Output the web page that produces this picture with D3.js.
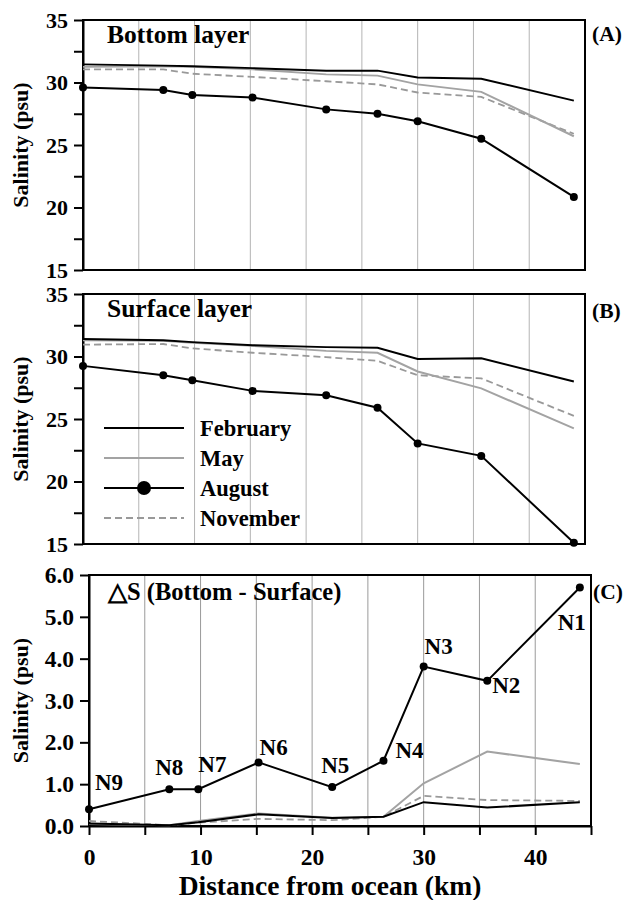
<!DOCTYPE html>
<html>
<head>
<meta charset="utf-8">
<script src="https://cdn.jsdelivr.net/npm/d3@7"></script>
<style>
  body { margin: 0; background: #fff; }
</style>
</head>
<body>
<script>
// --- data -------------------------------------------------------------------
const stations = ["N9", "N8", "N7", "N6", "N5", "N4", "N3", "N2", "N1"];
const distance = [0, 7.2, 9.8, 15.2, 21.8, 26.4, 30.0, 35.7, 44.0];
const months = ["February", "May", "August", "November"];

// bottom layer salinity (psu)
const bottomFeb = [31.45, 31.35, 31.3, 31.15, 30.95, 30.95, 30.4, 30.3, 28.55];
const bottomMay = [31.25, 31.3, 31.25, 31.05, 30.65, 30.55, 29.85, 29.25, 25.7];
const bottomAug = [29.6, 29.4, 29.0, 28.8, 27.85, 27.5, 26.9, 25.5, 20.85];
const bottomNov = [31.05, 31.05, 30.7, 30.45, 30.1, 29.85, 29.2, 28.85, 25.9];

// surface layer salinity (psu)
const surfaceFeb = [31.4, 31.3, 31.15, 30.9, 30.75, 30.7, 29.8, 29.85, 28.0];
const surfaceMay = [31.3, 31.25, 31.1, 30.85, 30.45, 30.3, 28.8, 27.45, 24.25];
const surfaceAug = [29.25, 28.5, 28.1, 27.25, 26.9, 25.9, 23.05, 22.05, 15.1];
const surfaceNov = [30.95, 31.0, 30.65, 30.3, 29.95, 29.65, 28.5, 28.25, 25.25];

// bottom - surface difference (psu)
const deltaFeb = [0.06, 0.02, 0.09, 0.28, 0.19, 0.22, 0.57, 0.44, 0.57];
const deltaMay = [0.05, 0.02, 0.12, 0.30, 0.20, 0.22, 1.02, 1.78, 1.48];
const deltaAug = [0.40, 0.88, 0.88, 1.52, 0.93, 1.56, 3.81, 3.47, 5.70];
const deltaNov = [0.12, 0.02, 0.08, 0.17, 0.14, 0.22, 0.72, 0.62, 0.60];

const salinityTicks = [15, 17.5, 20, 22.5, 25, 27.5, 30, 32.5, 35];
const deltaTicks = [0, 1, 2, 3, 4, 5, 6];
const distanceTicks = [0, 5, 10, 15, 20, 25, 30, 35, 40, 45];

// --- layout / styles ----------------------------------------------------------
const width = 624, height = 900;
const serif = "Liberation Serif";

const monthStyle = {
  February: { stroke: "#000", width: 2, dash: null, dots: false },
  May:      { stroke: "#a3a3a3", width: 2, dash: null, dots: false },
  August:   { stroke: "#000", width: 2, dash: null, dots: true },
  November: { stroke: "#999", width: 1.8, dash: "7,4", dots: false }
};

// label placement for station names [dx, dy, anchor]
const stationLabelPos = [
  [6, -19, "start"], [0, -14, "middle"], [0, -17, "start"], [1, -7, "start"],
  [3, -14, "middle"], [12, -3, "start"], [15, -13, "middle"], [5, 12, "start"],
  [6, 42, "end"]
];

const svg = d3.select("body").append("svg")
  .attr("width", width)
  .attr("height", height);

const panels = [
  { key: "A", x0: 83, x1: 585, top: 20, bottom: 270, domain: [15, 35], ticks: salinityTicks,
    fmt: d => d % 5 === 0 ? d : "", title: "Bottom layer", titleY: 23, titleSize: 25.5,
    letterY: 21, tickSize: 22,
    series: { February: bottomFeb, May: bottomMay, August: bottomAug, November: bottomNov } },
  { key: "B", x0: 83, x1: 585, top: 294, bottom: 544, domain: [15, 35], ticks: salinityTicks,
    fmt: d => d % 5 === 0 ? d : "", title: "Surface layer", titleY: 23, titleSize: 25.5,
    letterY: 24, tickSize: 22,
    series: { February: surfaceFeb, May: surfaceMay, August: surfaceAug, November: surfaceNov } },
  { key: "C", x0: 89, x1: 591, top: 575, bottom: 826, domain: [0, 6], ticks: deltaTicks,
    fmt: d3.format(".1f"), title: "\u25B3S (Bottom - Surface)", titleY: 25, titleSize: 24.5,
    letterY: 24, tickSize: 23.5,
    series: { February: deltaFeb, May: deltaMay, August: deltaAug, November: deltaNov } }
];

panels.forEach(p => {
  const x = d3.scaleLinear().domain([0, 45]).range([p.x0, p.x1]);
  const y = d3.scaleLinear().domain(p.domain).range([p.bottom, p.top]);
  const g = svg.append("g");

  // vertical grid lines
  g.selectAll("line.grid")
    .data(distanceTicks.filter(d => d > 0 && d < 45))
    .enter().append("line")
    .attr("x1", d => x(d)).attr("x2", d => x(d))
    .attr("y1", p.top).attr("y2", p.bottom)
    .attr("stroke", p.key === "C" ? "#9a9a9a" : "#b4b4b4")
    .attr("stroke-width", 1);

  // frame
  g.append("rect")
    .attr("x", p.x0).attr("y", p.top)
    .attr("width", p.x1 - p.x0).attr("height", p.bottom - p.top)
    .attr("fill", "none").attr("stroke", "#000").attr("stroke-width", 2);

  // y axis
  const yAxis = g.append("g")
    .attr("transform", `translate(${p.x0},0)`)
    .call(d3.axisLeft(y).tickValues(p.ticks).tickFormat(p.fmt).tickSize(9).tickPadding(6).tickSizeOuter(0));
  yAxis.select(".domain").attr("stroke-width", 2);
  yAxis.selectAll(".tick line").attr("stroke-width", 2);
  yAxis.selectAll(".tick text").attr("font-size", p.tickSize).attr("fill", "#000");

  if (p.key === "C") {
    const xAxis = g.append("g")
      .attr("transform", `translate(0,${p.bottom})`)
      .call(d3.axisBottom(x).tickValues(distanceTicks)
        .tickFormat(d => d % 10 === 0 ? d : "").tickSize(9).tickPadding(13).tickSizeOuter(0));
    xAxis.select(".domain").attr("stroke-width", 2);
    xAxis.selectAll(".tick line").attr("stroke-width", 2);
    xAxis.selectAll(".tick text").attr("font-size", 23.5).attr("fill", "#000");

    svg.append("text")
      .attr("x", 330).attr("y", 895)
      .attr("text-anchor", "middle")
      .attr("font-size", 27.5)
      .text("Distance from ocean (km)");
  }

  // y axis title
  svg.append("text")
    .attr("transform", `translate(28,${(p.top + p.bottom) / 2}) rotate(-90)`)
    .attr("text-anchor", "middle")
    .attr("font-size", 22)
    .text("Salinity (psu)");

  // panel title and letter
  svg.append("text")
    .attr("x", p.key === "C" ? 108 : 107)
    .attr("y", p.top + p.titleY)
    .attr("font-size", p.titleSize)
    .text(p.title);

  svg.append("text")
    .attr("x", p.key === "C" ? 593 : 592)
    .attr("y", p.top + p.letterY)
    .attr("font-size", 21.5)
    .text(`(${p.key})`);

  // series lines
  const line = d3.line().x((d, i) => x(distance[i])).y(d => y(d));
  const drawOrder = ["November", "May", "February", "August"];
  drawOrder.forEach(m => {
    const s = monthStyle[m];
    g.append("path")
      .datum(p.series[m])
      .attr("d", line)
      .attr("fill", "none")
      .attr("stroke", s.stroke)
      .attr("stroke-width", s.width)
      .attr("stroke-dasharray", s.dash);
    if (s.dots) {
      g.selectAll("circle.dot-" + m)
        .data(p.series[m])
        .enter().append("circle")
        .attr("cx", (d, i) => x(distance[i]))
        .attr("cy", d => y(d))
        .attr("r", 4)
        .attr("fill", "#000");
    }
  });

  // station labels on panel C
  if (p.key === "C") {
    g.selectAll("text.station")
      .data(stations)
      .enter().append("text")
      .attr("x", (d, i) => x(distance[i]) + stationLabelPos[i][0])
      .attr("y", (d, i) => y(deltaAug[i]) + stationLabelPos[i][1])
      .attr("text-anchor", (d, i) => stationLabelPos[i][2])
      .attr("font-size", 23)
      .text(d => d);
  }

  // legend in panel B
  if (p.key === "B") {
    const leg = g.append("g").attr("transform", "translate(104,428)");
    const rows = leg.selectAll("g").data(months).enter().append("g")
      .attr("transform", (d, i) => `translate(0,${i * 30})`);
    rows.append("line")
      .attr("x1", 0).attr("x2", 80)
      .attr("stroke", d => monthStyle[d].stroke)
      .attr("stroke-width", d => monthStyle[d].width)
      .attr("stroke-dasharray", d => monthStyle[d].dash);
    rows.filter(d => monthStyle[d].dots).append("circle")
      .attr("cx", 40).attr("r", 7).attr("fill", "#000");
    rows.append("text")
      .attr("x", 96).attr("dy", "0.35em")
      .attr("font-size", 22.5)
      .text(d => d);
  }
});

// every label in the bold serif face
svg.selectAll("text")
  .attr("font-family", serif)
  .attr("font-weight", "bold");
</script>
</body>
</html>
